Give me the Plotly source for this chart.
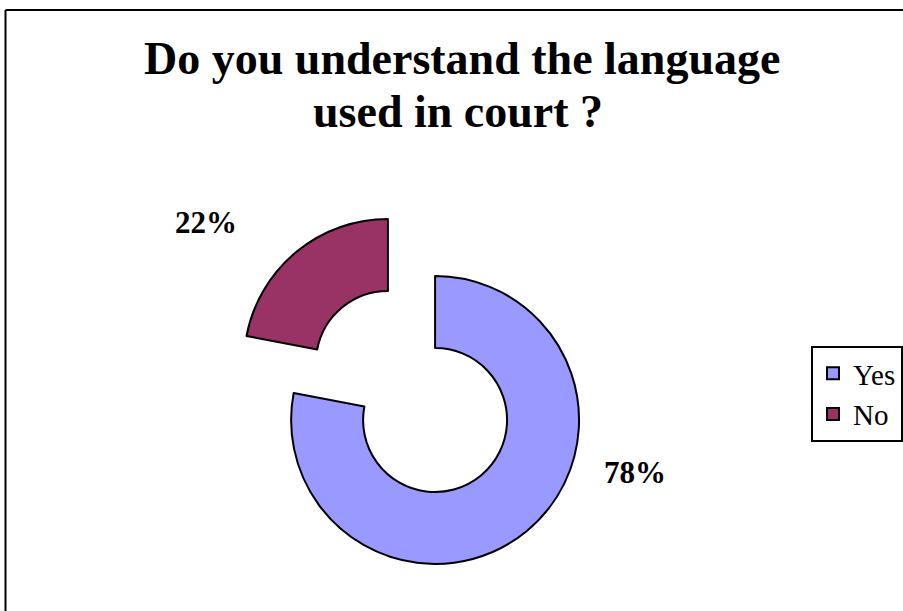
import plotly.graph_objects as go

# Survey answers
answers = ["Yes", "No"]
shares = [78, 22]
colors = ["#9999FF", "#993366"]
title_lines = ["Do you understand the language", "used in court ?"]

W, H = 903, 611
SERIF = "Liberation Serif, Times New Roman, serif"

total = sum(shares)
pct_text = [f"{round(100 * v / total)}%" for v in shares]

fig = go.Figure(
    go.Pie(
        labels=answers,
        values=shares,
        sort=False,
        direction="clockwise",
        rotation=0,
        hole=0.5,
        pull=[0.257, 0.257],
        marker=dict(colors=colors, line=dict(color="black", width=2)),
        textinfo="none",
        hoverinfo="label+percent",
        domain=dict(x=[0.2553, 0.6561], y=[0.0630, 0.6555]),
    )
)

def px_x(x):
    return x / W

def px_y(y):
    return 1 - y / H

annotations = []
# title, one annotation per line
for text, (cx, cy) in zip(title_lines, [(462, 58), (458, 111)]):
    annotations.append(dict(
        text=f"<b>{text}</b>", x=px_x(cx), y=px_y(cy), xref="paper", yref="paper",
        xanchor="center", yanchor="middle", showarrow=False,
        font=dict(family=SERIF, size=46, color="black"),
    ))

# percentage labels beside each slice
for text, (cx, cy) in zip(pct_text, [(635, 472), (206, 222)]):
    annotations.append(dict(
        text=f"<b>{text}</b>", x=px_x(cx), y=px_y(cy), xref="paper", yref="paper",
        xanchor="center", yanchor="middle", showarrow=False,
        font=dict(family=SERIF, size=31, color="black"),
    ))

# chart-area frame: top and left edges (right and bottom run off the page)
frame = [
    dict(type="line", xref="paper", yref="paper",
         x0=px_x(5.5), x1=1.0, y0=px_y(10), y1=px_y(10),
         line=dict(color="black", width=2)),
    dict(type="line", xref="paper", yref="paper",
         x0=px_x(5.5), x1=px_x(5.5), y0=0.0, y1=px_y(10),
         line=dict(color="black", width=2)),
]

fig.update_layout(
    width=W,
    height=H,
    margin=dict(l=0, r=0, t=0, b=0),
    paper_bgcolor="white",
    plot_bgcolor="white",
    showlegend=True,
    legend=dict(
        x=px_x(811), y=px_y(346), xanchor="left", yanchor="top",
        bordercolor="black", borderwidth=2, bgcolor="white",
        font=dict(family=SERIF, size=29, color="black"),
        tracegroupgap=0,
        itemclick=False, itemdoubleclick=False,
    ),
    annotations=annotations,
    shapes=frame,
)

# keep the page exactly the size of the figure (no scrollbars)
fig.write_html(
    "out.html",
    post_script=(
        "document.documentElement.style.overflow='hidden';"
        "document.body.style.overflow='hidden';"
        "document.body.style.margin='0';"
    ),
)
